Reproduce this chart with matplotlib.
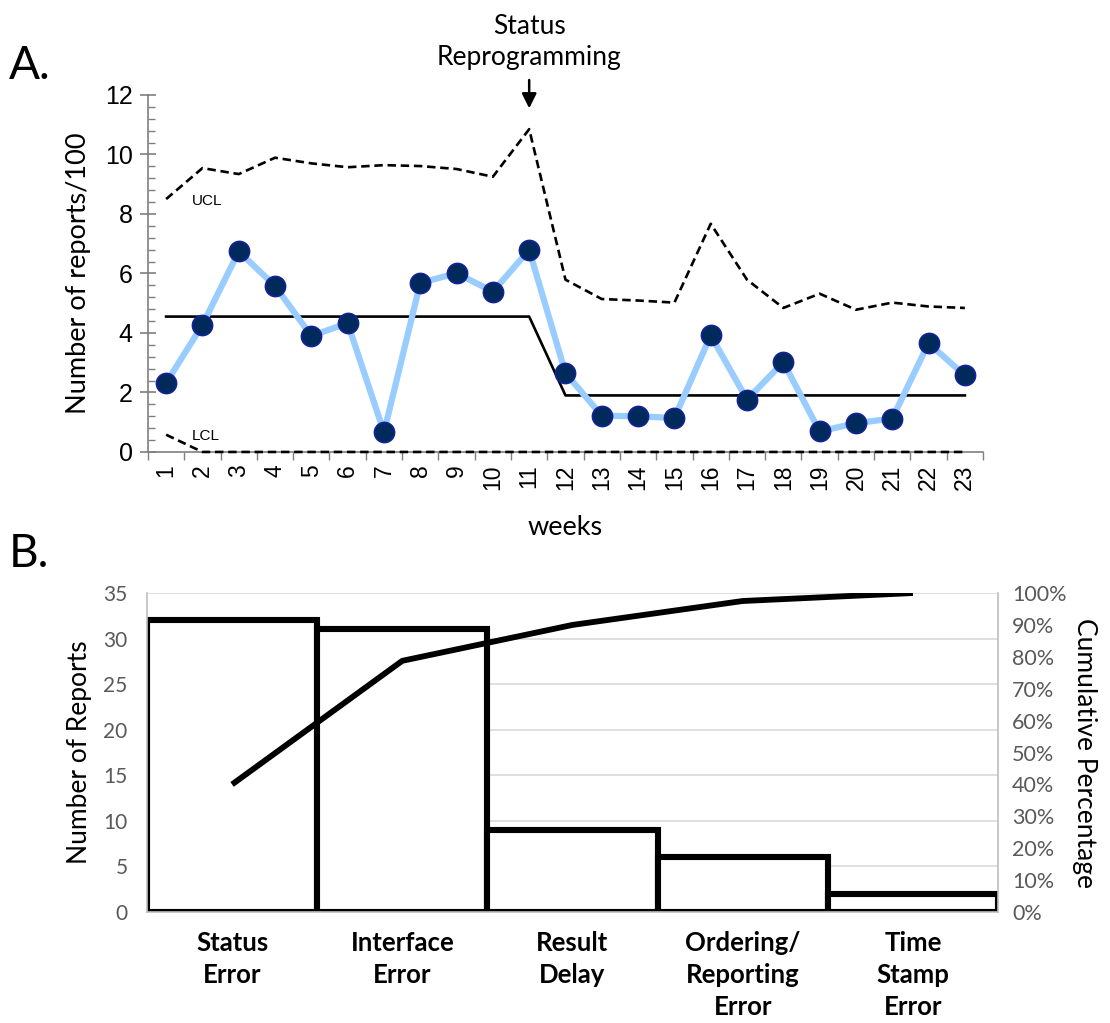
import matplotlib
matplotlib.use("Agg")
import matplotlib.pyplot as plt
import numpy as np
from matplotlib.ticker import MultipleLocator, FixedLocator, PercentFormatter

# ---------------- Data: panel A (control chart) ----------------
weeks = list(range(1, 24))
reports = [2.32, 4.27, 6.74, 5.58, 3.90, 4.33, 0.66, 5.68, 6.01, 5.39, 6.79,
           2.65, 1.22, 1.20, 1.14, 3.92, 1.76, 3.02, 0.69, 0.97, 1.12, 3.66, 2.57]
ucl = [8.50, 9.54, 9.34, 9.89, 9.70, 9.57, 9.64, 9.61, 9.51, 9.25, 10.85,
       5.79, 5.14, 5.09, 5.02, 7.67, 5.79, 4.84, 5.32, 4.78, 5.02, 4.89, 4.84]
lcl = [0.58, 0, 0, 0, 0, 0, 0, 0, 0, 0, 0,
       0, 0, 0, 0, 0, 0, 0, 0, 0, 0, 0, 0]
center = [4.55] * 11 + [1.90] * 12

# ---------------- Data: panel B (Pareto) ----------------
categories = ["Status\nError", "Interface\nError", "Result\nDelay",
              "Ordering/\nReporting\nError", "Time\nStamp\nError"]
counts = [32, 31, 9, 6, 2]
cumulative_pct = list(np.cumsum(counts) / np.sum(counts) * 100)

fig = plt.figure(figsize=(11.10, 10.23), dpi=100)

ARIAL = ["Liberation Sans", "DejaVu Sans"]
CAL = ["Lato", "DejaVu Sans"]

# ================= Panel A =================
ax = fig.add_axes([0.1333, 0.5582, 0.7523, 0.3490])
ax.plot(weeks, ucl, color="black", ls=(0, (3.2, 1.8)), lw=1.9, zorder=2)
ax.plot(weeks, lcl, color="black", ls=(0, (3.2, 1.8)), lw=1.9, zorder=3, clip_on=False)
ax.plot(weeks, center, color="black", lw=1.9, zorder=2)
ax.plot(weeks, reports, color="#99ccff", lw=4.5, zorder=4,
        marker="o", markersize=14.5, markerfacecolor="#002a5c",
        markeredgecolor="#14239a", markeredgewidth=1.2)

ax.set_xlim(0.5, 23.5)
ax.set_ylim(0, 12)
for s in ["top", "right"]:
    ax.spines[s].set_visible(False)
for s in ["left", "bottom"]:
    ax.spines[s].set_color("#7f7f7f")
    ax.spines[s].set_linewidth(1.2)

ax.yaxis.set_major_locator(MultipleLocator(2))
ax.yaxis.set_minor_locator(MultipleLocator(0.4))
ax.tick_params(axis="y", which="major", direction="inout", length=12, width=1.2,
               color="#7f7f7f", labelsize=18, pad=5)
ax.tick_params(axis="y", which="minor", direction="in", length=5, width=1.0,
               color="#7f7f7f")
for lab in ax.get_yticklabels():
    lab.set_family(ARIAL)

ax.xaxis.set_major_locator(FixedLocator(weeks))
ax.xaxis.set_minor_locator(FixedLocator(np.arange(0.5, 24, 1)))
ax.set_xticklabels([str(w) for w in weeks], rotation=90, family=ARIAL)
ax.tick_params(axis="x", which="major", length=0, labelsize=16.5, pad=9)
ax.tick_params(axis="x", which="minor", direction="out", length=6, width=1.0,
               color="#7f7f7f")

ax.set_ylabel("Number of reports/100", fontsize=19.5, family=CAL, labelpad=10)
ax.set_xlabel("weeks", fontsize=19.5, family=CAL, labelpad=18)

ax.text(1.7, 8.45, "UCL", fontsize=11, family=ARIAL, va="center")
ax.text(1.7, 0.55, "LCL", fontsize=11, family=ARIAL, va="center")

ax.annotate("", xy=(11, 11.55), xytext=(11, 12.5), xycoords="data",
            annotation_clip=False,
            arrowprops=dict(arrowstyle="-|>", color="black", lw=1.8,
                            mutation_scale=22, shrinkA=0, shrinkB=0))
ax.text(11, 12.85, "Status\nReprogramming", ha="center", va="bottom",
        fontsize=19, family=CAL, linespacing=1.3, clip_on=False)

fig.text(0.008, 0.935, "A.", fontsize=33, family=CAL, va="center")
fig.text(0.008, 0.458, "B.", fontsize=33, family=CAL, va="center")

# ================= Panel B =================
bx = fig.add_axes([0.1324, 0.1085, 0.7667, 0.3118])
x = np.arange(len(categories))
bx.bar(x, counts, width=1.0, color="white", edgecolor="black", linewidth=4.4,
       zorder=2)
bx.set_xlim(-0.5, len(categories) - 0.5)
bx.set_ylim(0, 35)
bx.yaxis.set_major_locator(MultipleLocator(5))
bx.grid(axis="y", color="#d9d9d9", lw=1.2, zorder=0)
bx.set_axisbelow(True)
for s in ["top"]:
    bx.spines[s].set_visible(False)
for s in ["left", "right", "bottom"]:
    bx.spines[s].set_color("#bfbfbf")
    bx.spines[s].set_linewidth(1.2)
bx.set_xticks(x)
bx.set_xticklabels(categories, fontsize=18.5, fontweight="bold", family=CAL,
                   linespacing=1.4)
bx.tick_params(axis="x", length=0, pad=14)
bx.tick_params(axis="y", length=0, labelsize=15, labelcolor="#595959", pad=14)
for lab in bx.get_yticklabels():
    lab.set_family(CAL)
bx.set_ylabel("Number of Reports", fontsize=19, family=CAL, labelpad=8)

tx = bx.twinx()
tx.plot(x, cumulative_pct, color="black", lw=4.2, zorder=5, solid_capstyle="butt")
tx.set_ylim(0, 100)
tx.yaxis.set_major_locator(MultipleLocator(10))
tx.yaxis.set_major_formatter(PercentFormatter(decimals=0))
tx.tick_params(axis="y", length=0, labelsize=15.5, labelcolor="#595959", pad=10)
for lab in tx.get_yticklabels():
    lab.set_family(CAL)
for s in tx.spines.values():
    s.set_visible(False)
tx.set_ylabel("Cumulative Percentage", fontsize=19, family=CAL, rotation=270,
              labelpad=22)

fig.savefig("out.png", dpi=100)
